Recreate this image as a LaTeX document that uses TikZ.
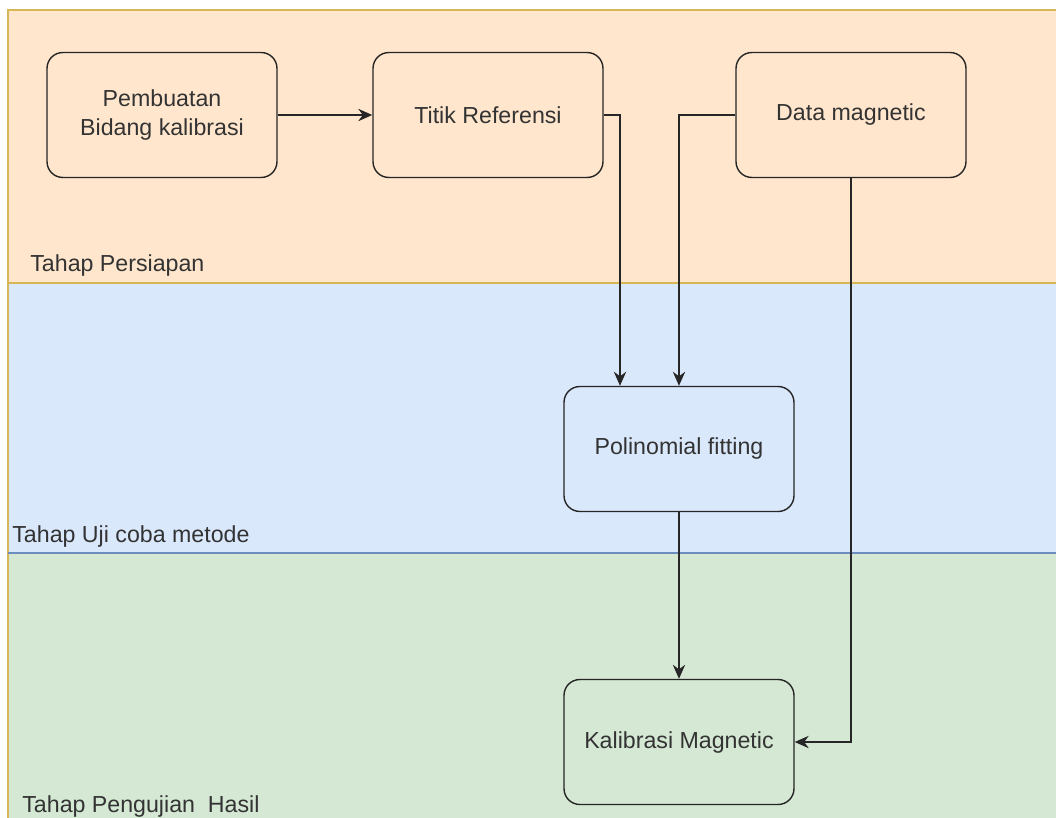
\documentclass[tikz,border=0pt]{standalone}
\usepackage{fontspec}
\setmainfont{Liberation Sans}
\usetikzlibrary{arrows.meta}

\definecolor{orangefill}{HTML}{FFE6CC}
\definecolor{orangeline}{HTML}{D6B656}
\definecolor{bluefill}{HTML}{DAE8FC}
\definecolor{blueline}{HTML}{6C8EBF}
\definecolor{greenfill}{HTML}{D5E8D4}
\definecolor{greenline}{HTML}{82B366}
\definecolor{textgrey}{HTML}{333333}

\begin{document}
\begin{tikzpicture}
  [x=0.02cm,y=-0.02cm,>={Stealth[length=8pt,width=7pt]},
   every node/.style={font=\fontsize{13.2}{16.5}\selectfont, text=textgrey},
   box/.style={rectangle, rounded corners=9pt, draw=black!85, line width=0.8pt,
     minimum width=4.6cm, minimum height=2.5cm, align=center},
   lane/.style={anchor=west, inner sep=0pt},
   link/.style={->, line width=0.9pt, draw=black!85}]
  \useasboundingbox (0,0) rectangle (1056,818);

  % bands
  \fill[orangefill] (8,10) rectangle (1056,283);
  \fill[bluefill] (8,283) rectangle (1056,553);
  \fill[greenfill] (8,553) rectangle (1056,818);
  \draw[orangeline, line width=0.8pt] (8,818) -- (8,10) -- (1056,10);
  \draw[orangeline, line width=0.8pt] (8,283) -- (1056,283);
  \draw[blueline, line width=0.8pt] (8,553) -- (1056,553);

  \node[lane] (l1) at (30,266) {Tahap Persiapan};
  \node[lane] (l2) at (12,537) {Tahap Uji coba metode};
  \node[lane] (l3) at (22,806) {Tahap Pengujian\ \ Hasil};

  % boxes
  \node[box] (bidang) at (162,115) {Pembuatan\\Bidang kalibrasi};
  \node[box] (titik) at (488,115) {Titik Referensi};
  \node[box] (data) at (851,115) {Data magnetic};
  \node[box] (poli) at (679,449) {Polinomial fitting};
  \node[box] (kalib) at (679,742) {Kalibrasi Magnetic};

  \draw[link] (bidang) -- (titik);
  \draw[link] (titik.east) -| ([xshift=-1.18cm]poli.north);
  \draw[link] (data.west) -| (poli.north);
  \draw[link] (poli) -- (kalib);
  \draw[link] (data.south) |- (kalib.east);
\end{tikzpicture}
\end{document}
